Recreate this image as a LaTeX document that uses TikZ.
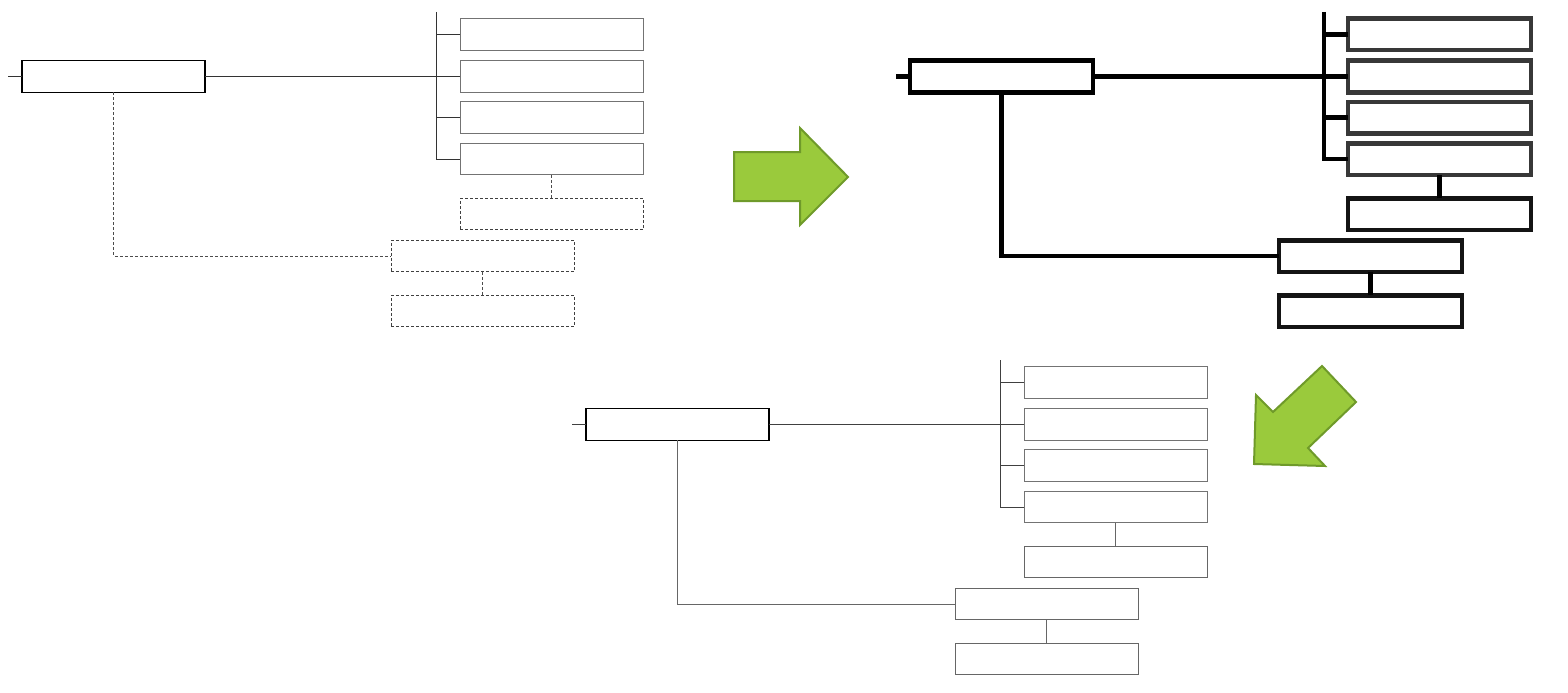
\documentclass[tikz,border=0pt]{standalone}
\usetikzlibrary{calc}
\definecolor{arrowfill}{HTML}{9ACA3C}
\definecolor{arrowdraw}{HTML}{6F9A2A}
\tikzset{
  box/.style={rectangle, minimum width=183pt, minimum height=31.5pt, inner sep=0pt, outer sep=0pt},
  rootA/.style={box, draw=black, line width=1.3pt},
  childA/.style={box, draw=black!55, line width=0.9pt},
  lineA/.style={draw=black!80, line width=0.8pt},
  extraA/.style={box, draw=black!75, line width=0.9pt, dash pattern=on 3pt off 2pt},
  extralineA/.style={draw=black!70, line width=0.8pt, dash pattern=on 3pt off 2pt},
  rootB/.style={box, draw=black, line width=4.5pt},
  childB/.style={box, draw=black!78, line width=4.5pt},
  lineB/.style={draw=black, line width=4.5pt},
  extraB/.style={box, draw=black!92, line width=4.5pt},
  extralineB/.style={draw=black, line width=4.5pt},
  rootC/.style={box, draw=black, line width=1.3pt},
  childC/.style={box, draw=black!55, line width=0.9pt},
  lineC/.style={draw=black!75, line width=0.8pt},
  extraC/.style={box, draw=black!60, line width=0.9pt},
  extralineC/.style={draw=black!60, line width=0.8pt},
  bigarrow/.style={fill=arrowfill, draw=arrowdraw, line width=2pt, line join=miter},
}
\newcommand{\orgtree}[8]{%
\begin{scope}[shift={(#2,#3)}]
\node[#4] (#1r) at (113.5,76.5) {};
\node[#5] (#1c1) at (551.5,34.5) {};
\node[#5] (#1c2) at (551.5,76.5) {};
\node[#5] (#1c3) at (551.5,117.5) {};
\node[#5] (#1c4) at (551.5,159) {};
\node[#7] (#1c5) at (551.5,214) {};
\node[#7] (#1d1) at (482.5,256) {};
\node[#7] (#1d2) at (482.5,311) {};
\coordinate (#1top) at (436,12);
\coordinate (#1stub) at (8,76.5);
\draw[#6] (#1stub) -- (#1r.west);
\draw[#6] (#1r.east) -- (#1c2.west);
\draw[#6] (#1top) |- (#1c4.west);
\draw[#6] (#1c1.west) -- (#1c1.west -| #1top);
\draw[#6] (#1c3.west) -- (#1c3.west -| #1top);
\draw[#8] (#1c4.south) -- (#1c5.north);
\draw[#8] (#1r.south) |- (#1d1.west);
\draw[#8] (#1d1.south) -- (#1d2.north);
\end{scope}}
\begin{document}
\begin{tikzpicture}[x=1pt,y=-1pt]
\useasboundingbox (0,0) rectangle (1568,693);
\orgtree{a}{0}{0}{rootA}{childA}{lineA}{extraA}{extralineA}
\orgtree{b}{888}{0}{rootB}{childB}{lineB}{extraB}{extralineB}
\orgtree{c}{564}{348}{rootC}{childC}{lineC}{extraC}{extralineC}
\draw[bigarrow] (734,152) -- (800,152) -- (800,128) -- (848,177) -- (800,225) -- (800,201) -- (734,201) -- cycle;
\draw[bigarrow] (1256,395) -- (1273,412) -- (1322,366) -- (1356,402) -- (1308,448) -- (1325,466) -- (1254,464) -- cycle;
\end{tikzpicture}
\end{document}
